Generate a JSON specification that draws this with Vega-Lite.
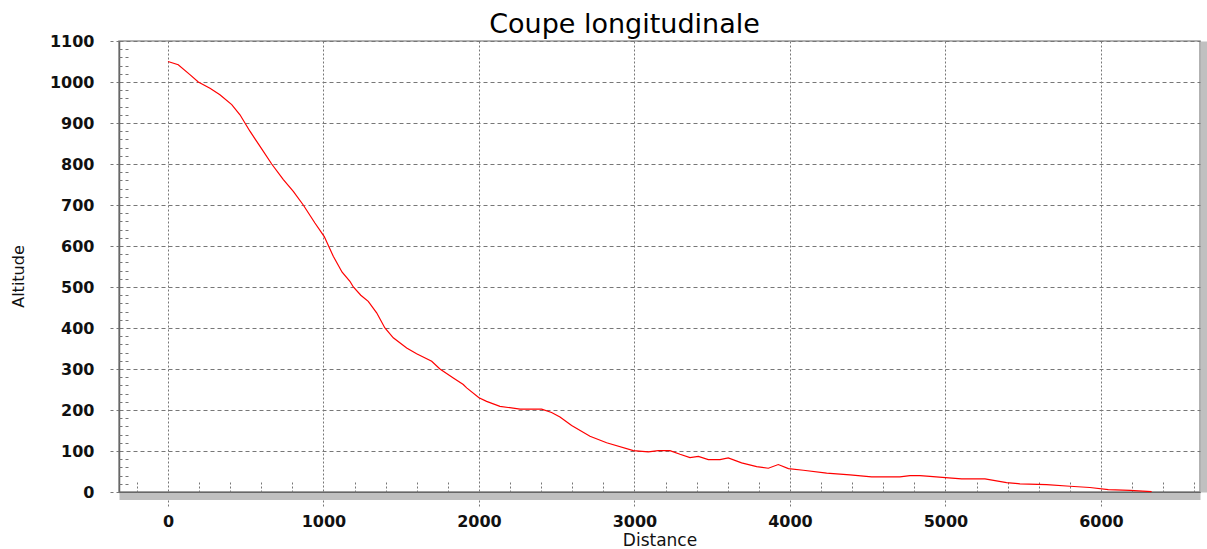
{
  "$schema": "https://vega.github.io/schema/vega-lite/v6.json",
  "width": 1081,
  "height": 451,
  "autosize": {"type": "none"},
  "padding": {"left": 119, "top": 41, "right": 7, "bottom": 57},
  "background": "white",
  "title": {"text": "Coupe longitudinale", "font": "DejaVu Sans", "fontSize": 27, "fontWeight": "normal", "color": "#000", "anchor": "middle", "dx": -35, "offset": -6},
  "config": {"view": {"stroke": "#999", "strokeWidth": 1.5}, "font": "DejaVu Sans"},
  "data": {"values": [
    {"distance": 0, "altitude": 1050},
    {"distance": 66, "altitude": 1042},
    {"distance": 141, "altitude": 1018},
    {"distance": 195, "altitude": 1000},
    {"distance": 270, "altitude": 985},
    {"distance": 334, "altitude": 969},
    {"distance": 410, "altitude": 945},
    {"distance": 463, "altitude": 920},
    {"distance": 527, "altitude": 880},
    {"distance": 592, "altitude": 843},
    {"distance": 667, "altitude": 800},
    {"distance": 742, "altitude": 762},
    {"distance": 806, "altitude": 733},
    {"distance": 870, "altitude": 700},
    {"distance": 945, "altitude": 656},
    {"distance": 1005, "altitude": 623},
    {"distance": 1063, "altitude": 575},
    {"distance": 1120, "altitude": 536},
    {"distance": 1170, "altitude": 514},
    {"distance": 1192, "altitude": 500},
    {"distance": 1240, "altitude": 480},
    {"distance": 1288, "altitude": 465},
    {"distance": 1342, "altitude": 437},
    {"distance": 1395, "altitude": 400},
    {"distance": 1449, "altitude": 376},
    {"distance": 1535, "altitude": 351},
    {"distance": 1599, "altitude": 337},
    {"distance": 1696, "altitude": 319},
    {"distance": 1749, "altitude": 300},
    {"distance": 1835, "altitude": 278},
    {"distance": 1899, "altitude": 262},
    {"distance": 1921, "altitude": 254},
    {"distance": 2000, "altitude": 230},
    {"distance": 2049, "altitude": 221},
    {"distance": 2135, "altitude": 209},
    {"distance": 2264, "altitude": 202},
    {"distance": 2403, "altitude": 202},
    {"distance": 2467, "altitude": 194},
    {"distance": 2521, "altitude": 183},
    {"distance": 2596, "altitude": 162},
    {"distance": 2714, "altitude": 136},
    {"distance": 2821, "altitude": 120},
    {"distance": 2993, "altitude": 101},
    {"distance": 3089, "altitude": 98},
    {"distance": 3153, "altitude": 101},
    {"distance": 3228, "altitude": 101},
    {"distance": 3293, "altitude": 92},
    {"distance": 3357, "altitude": 84},
    {"distance": 3411, "altitude": 87},
    {"distance": 3475, "altitude": 79},
    {"distance": 3550, "altitude": 79},
    {"distance": 3603, "altitude": 83},
    {"distance": 3689, "altitude": 71},
    {"distance": 3786, "altitude": 62},
    {"distance": 3861, "altitude": 58},
    {"distance": 3925, "altitude": 67},
    {"distance": 3990, "altitude": 57},
    {"distance": 4086, "altitude": 53},
    {"distance": 4236, "altitude": 46},
    {"distance": 4386, "altitude": 42},
    {"distance": 4525, "altitude": 37},
    {"distance": 4707, "altitude": 37},
    {"distance": 4772, "altitude": 40},
    {"distance": 4836, "altitude": 40},
    {"distance": 4900, "altitude": 38},
    {"distance": 5000, "altitude": 35},
    {"distance": 5104, "altitude": 32},
    {"distance": 5254, "altitude": 32},
    {"distance": 5393, "altitude": 23},
    {"distance": 5479, "altitude": 20},
    {"distance": 5651, "altitude": 18},
    {"distance": 5801, "altitude": 14},
    {"distance": 5929, "altitude": 11},
    {"distance": 6047, "altitude": 6},
    {"distance": 6186, "altitude": 4},
    {"distance": 6326, "altitude": 1}
  ]},
  "layer": [
    {
      "mark": {"type": "line", "color": "#ff0000", "strokeWidth": 1.2},
      "encoding": {
        "x": {"field": "distance", "type": "quantitative",
          "scale": {"domain": [-315, 6637], "nice": false, "zero": false},
          "axis": {"orient": "bottom", "values": [0, 1000, 2000, 3000, 4000, 5000, 6000], "format": "d",
            "title": "Distance", "grid": true, "gridDash": [2, 2], "gridColor": "#777", "gridOpacity": 1, "gridWidth": 1,
            "tickSize": 14, "tickDash": [2, 2], "tickColor": "#777", "tickWidth": 1,
            "domainColor": "#666", "domainWidth": 1.5,
            "labelFont": "DejaVu Sans", "labelFontSize": 16, "labelFontWeight": "bold", "labelColor": "#111",
            "labelPadding": 7, "labelFlush": false, "labelOverlap": false,
            "titleFont": "DejaVu Sans", "titleFontSize": 17, "titleFontWeight": "normal", "titleColor": "#111",
            "titleY": 57, "titleBaseline": "bottom"}},
        "y": {"field": "altitude", "type": "quantitative",
          "scale": {"domain": [0, 1100], "nice": false, "zero": false},
          "axis": {"orient": "left", "values": [0, 100, 200, 300, 400, 500, 600, 700, 800, 900, 1000, 1100], "format": "d",
            "title": "Altitude", "grid": true, "gridDash": [4, 3], "gridColor": "#777", "gridOpacity": 1, "gridWidth": 1,
            "tickSize": 11, "tickDash": [3, 3], "tickColor": "#777", "tickWidth": 1,
            "domainColor": "#666", "domainWidth": 1.5,
            "labelFont": "DejaVu Sans", "labelFontSize": 16, "labelFontWeight": "bold", "labelColor": "#111",
            "labelPadding": 14, "labelFlush": false, "labelOverlap": false,
            "titleFont": "DejaVu Sans", "titleFontSize": 16, "titleFontWeight": "normal", "titleColor": "#111",
            "titleX": -101, "titleY": 235, "titleAngle": -90, "titleAlign": "center", "titleBaseline": "middle"}}
      }
    },
    {
      "mark": {"type": "line", "strokeOpacity": 0},
      "encoding": {
        "x": {"field": "distance", "type": "quantitative",
          "scale": {"domain": [-315, 6637], "nice": false, "zero": false},
          "axis": {"orient": "bottom", "values": [-200, 200, 400, 600, 800, 1200, 1400, 1600, 1800, 2200, 2400, 2600, 2800, 3200, 3400, 3600, 3800, 4200, 4400, 4600, 4800, 5200, 5400, 5600, 5800, 6200, 6400, 6600],
            "title": null, "grid": false, "labels": false, "domain": false,
            "ticks": true, "tickSize": -10, "tickDash": [2, 2], "tickColor": "#777", "tickWidth": 1}},
        "y": {"field": "altitude", "type": "quantitative",
          "scale": {"domain": [0, 1100], "nice": false, "zero": false},
          "axis": {"orient": "left", "values": [20, 40, 60, 80, 120, 140, 160, 180, 220, 240, 260, 280, 320, 340, 360, 380, 420, 440, 460, 480, 520, 540, 560, 580, 620, 640, 660, 680, 720, 740, 760, 780, 820, 840, 860, 880, 920, 940, 960, 980, 1020, 1040, 1060, 1080],
            "title": null, "grid": false, "labels": false, "domain": false,
            "ticks": true, "tickSize": -11, "tickDash": [3, 3], "tickColor": "#777", "tickWidth": 1}}
      }
    },
    {
      "mark": {"type": "line", "strokeOpacity": 0},
      "encoding": {
        "x": {"field": "distance", "type": "quantitative",
          "scale": {"domain": [-315, 6637], "nice": false, "zero": false},
          "axis": {"orient": "bottom", "offset": 4, "title": null, "grid": false, "labels": false, "ticks": false,
            "domain": true, "domainColor": "#c0c0c0", "domainWidth": 7}},
        "y": {"field": "altitude", "type": "quantitative",
          "scale": {"domain": [0, 1100], "nice": false, "zero": false},
          "axis": {"orient": "right", "offset": 4, "title": null, "grid": false, "labels": false, "ticks": false,
            "domain": true, "domainColor": "#c0c0c0", "domainWidth": 7}}
      }
    }
  ],
  "resolve": {"axis": {"x": "independent", "y": "independent"}}
}
